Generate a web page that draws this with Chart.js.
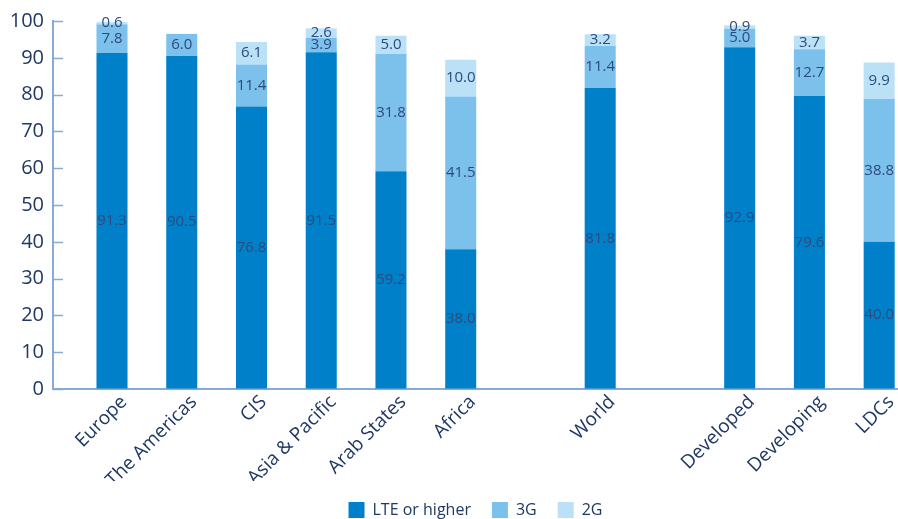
<!DOCTYPE html>
<html>
<head>
<meta charset="utf-8">
<script src="https://cdn.jsdelivr.net/npm/chart.js@4.4.0/dist/chart.umd.min.js"></script>
<style>
  html, body { margin: 0; padding: 0; background: #fff; }
  #wrap { width: 898px; height: 519px; position: relative; }
</style>
</head>
<body>
<div id="wrap"><canvas id="chart"></canvas></div>
<script>
// categories ('' = spacer slot)
var categories = ['Europe', 'The Americas', 'CIS', 'Asia & Pacific', 'Arab States', 'Africa', '', 'World', '', 'Developed', 'Developing', 'LDCs'];
var lte = [91.3, 90.5, 76.8, 91.5, 59.2, 38.0, null, 81.8, null, 92.9, 79.6, 40.0];
var g3  = [7.8, 6.0, 11.4, 3.9, 31.8, 41.5, null, 11.4, null, 5.0, 12.7, 38.8];
var g2  = [0.6, null, 6.1, 2.6, 5.0, 10.0, null, 3.2, null, 0.9, 3.7, 9.9];
var seriesNames = ['LTE or higher', '3G', '2G'];
var yMin = 0, yMax = 100, yStep = 10;

var navy = '#1f3864';
var labelNavy = '#2e4a7d';
var axisColor = '#86acd6';
var font = '"Open Sans", "DejaVu Sans", sans-serif';

function points(arr) {
  return categories.map(function(c, i) { return { x: i, y: arr[i] }; });
}

// value labels in the middle of each segment
var valueLabels = {
  id: 'valueLabels',
  afterDatasetsDraw: function(chart) {
    var ctx = chart.ctx;
    ctx.save();
    ctx.font = '15px ' + font;
    ctx.fillStyle = labelNavy;
    ctx.textAlign = 'center';
    ctx.textBaseline = 'middle';
    chart.data.datasets.forEach(function(ds, di) {
      chart.getDatasetMeta(di).data.forEach(function(bar, i) {
        var v = ds.data[i].y;
        if (v == null) return;
        var p = bar.getProps(['x', 'y', 'base'], true);
        ctx.fillText(v.toFixed(1), p.x, (p.y + p.base) / 2);
      });
    });
    ctx.restore();
  }
};

// small tick marks pointing into the plot from the y axis
var innerTicks = {
  id: 'innerTicks',
  afterDraw: function(chart) {
    var ys = chart.scales.y, ctx = chart.ctx, left = chart.chartArea.left;
    ctx.save();
    ctx.strokeStyle = axisColor;
    ctx.lineWidth = 1.5;
    ys.ticks.forEach(function(t) {
      var py = Math.round(ys.getPixelForValue(t.value)) + 0.5;
      ctx.beginPath();
      ctx.moveTo(left, py);
      ctx.lineTo(left + 10, py);
      ctx.stroke();
    });
    ctx.restore();
  }
};

new Chart(document.getElementById('chart'), {
  type: 'bar',
  data: {
    datasets: [
      { label: seriesNames[0], data: points(lte), backgroundColor: '#0080c9' },
      { label: seriesNames[1], data: points(g3), backgroundColor: '#7bc1eb' },
      { label: seriesNames[2], data: points(g2), backgroundColor: '#bbe1f7' }
    ]
  },
  options: {
    responsive: true, maintainAspectRatio: false, animation: false, devicePixelRatio: 1,
    layout: { padding: { top: 13, left: 0, right: 0, bottom: -9 } },
    datasets: { bar: { barPercentage: 0.445, categoryPercentage: 1, borderWidth: 0, clip: false } },
    plugins: {
      tooltip: { enabled: false },
      legend: {
        position: 'bottom', fullSize: false,
        labels: { color: navy, boxWidth: 16, boxHeight: 16, padding: 21, font: { family: font, size: 16 } }
      }
    },
    scales: {
      x: {
        type: 'linear', stacked: true, offset: false, min: -0.846, max: 11.27,
        afterBuildTicks: function(scale) {
          scale.ticks = categories.map(function(c, i) { return { value: i }; });
        },
        afterFit: function(scale) {
          scale.height = 92;
          // rotated labels shouldn't pull the plot in from the edges
          scale.paddingLeft = 0;
          scale.paddingRight = 0;
        },
        ticks: {
          autoSkip: false, minRotation: 45, maxRotation: 45, padding: 2, labelOffset: 12,
          color: navy, font: { family: font, size: 19 },
          callback: function(value, index) { return categories[index]; }
        },
        grid: { offset: false, drawOnChartArea: false, drawTicks: false },
        border: { color: axisColor, width: 2 }
      },
      y: {
        stacked: true, min: yMin, max: yMax,
        afterFit: function(scale) { scale.width = 53; },
        ticks: { stepSize: yStep, padding: 9, color: navy, font: { family: font, size: 20 } },
        grid: { drawOnChartArea: false, drawTicks: false },
        border: { color: axisColor, width: 2 }
      }
    }
  },
  plugins: [valueLabels, innerTicks]
});
</script>
</body>
</html>
